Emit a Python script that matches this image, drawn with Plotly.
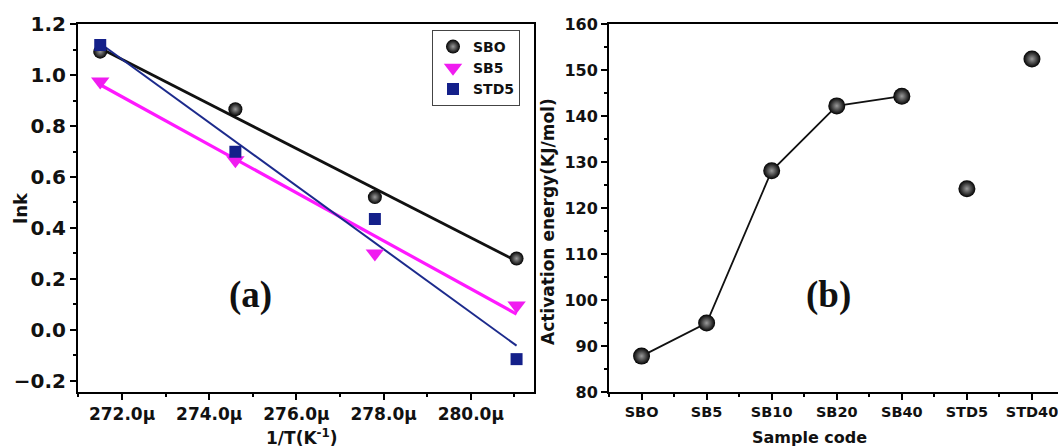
import plotly.graph_objects as go

# ---------------- data: panel (a) ----------------
inv_T = [271.5e-6, 274.6e-6, 277.8e-6, 281.05e-6]
lnk_sbo = [1.092, 0.866, 0.521, 0.280]
lnk_sb5 = [0.975, 0.666, 0.300, 0.096]
lnk_std5 = [1.118, 0.699, 0.435, -0.115]
# linear-fit line values at the first and last 1/T
fit_sbo = [1.105, 0.270]
fit_sb5 = [0.962, 0.062]
fit_std5 = [1.124, -0.062]

# ---------------- data: panel (b) ----------------
samples = ["SBO", "SB5", "SB10", "SB20", "SB40", "STD5", "STD40"]
energy = [87.8, 95.0, 128.1, 142.2, 144.3, 124.2, 152.4]
n_connected = 5  # first five samples joined by a line

FONT = "DejaVu Sans"
TXT = "#111111"
BLACK = "#111111"
MAGENTA = "#f01cf0"
NAVY = "#14208a"

W, H = 1058, 448

fig = go.Figure()

fit_x = [inv_T[0], inv_T[-1]]
for fy, col, w in [(fit_sbo, BLACK, 2.8), (fit_sb5, "#ff19ff", 3.2), (fit_std5, "#1c2a8c", 2.0)]:
    fig.add_trace(go.Scatter(x=fit_x, y=fy, mode="lines", line=dict(color=col, width=w),
                             showlegend=False, hoverinfo="skip", xaxis="x", yaxis="y"))

fig.add_trace(go.Scatter(x=inv_T, y=lnk_sbo, mode="markers", name="SBO",
                         marker=dict(symbol="circle", size=14, color="#000000",
                                     gradient=dict(type="radial", color="#9a9a9a"),
                                     line=dict(width=0)),
                         xaxis="x", yaxis="y"))
fig.add_trace(go.Scatter(x=inv_T, y=lnk_sb5, mode="markers", name="SB5",
                         marker=dict(symbol="triangle-down", size=16, color=MAGENTA, line=dict(width=0)),
                         xaxis="x", yaxis="y"))
fig.add_trace(go.Scatter(x=inv_T, y=lnk_std5, mode="markers", name="STD5",
                         marker=dict(symbol="square", size=12, color=NAVY, line=dict(width=0)),
                         xaxis="x", yaxis="y"))

# panel (b)
idx = list(range(len(samples)))
fig.add_trace(go.Scatter(x=idx[:n_connected], y=energy[:n_connected], mode="lines",
                         line=dict(color=BLACK, width=1.8), showlegend=False,
                         xaxis="x2", yaxis="y2"))
fig.add_trace(go.Scatter(x=idx, y=energy, mode="markers", showlegend=False,
                         marker=dict(symbol="circle", size=17, color="#000000",
                                     gradient=dict(type="radial", color="#9a9a9a"),
                                     line=dict(width=0)),
                         xaxis="x2", yaxis="y2"))

tick_common = dict(showline=True, linecolor="black", linewidth=2, ticks="outside",
                   tickcolor="black", tickwidth=2, ticklen=6, showgrid=False,
                   zeroline=False, automargin=False, ticklabeloverflow="allow")
minor_common = dict(ticks="outside", ticklen=3, tickwidth=2, tickcolor="black")


def ann(text, px, py, size, angle=0, family=FONT):
    return dict(text=text, x=px / W, y=1 - py / H, xref="paper", yref="paper",
                xanchor="center", yanchor="middle", showarrow=False, textangle=angle,
                font=dict(family=family, size=size, weight="bold", color=TXT))


fig.update_layout(
    width=W, height=H,
    margin=dict(l=0, r=0, t=0, b=0, autoexpand=False),
    paper_bgcolor="white", plot_bgcolor="white",
    font=dict(family=FONT, color=TXT),
    legend=dict(x=432 / W, y=1 - 30 / H, xanchor="left", yanchor="top",
                bordercolor="#444444", borderwidth=1, bgcolor="white",
                font=dict(family=FONT, size=14, color=TXT, weight="bold"),
                tracegroupgap=0),
    xaxis=dict(domain=[78 / W, 534 / W], range=[270.99e-6, 281.45e-6],
               tick0=272e-6, dtick=2e-6, tickformat=".4s", mirror=True,
               minor=dict(dtick=1e-6, tick0=272e-6, **minor_common),
               tickfont=dict(family=FONT, size=17, weight="bold", color=TXT),
               anchor="y", **tick_common),
    yaxis=dict(domain=[1 - 392 / H, 1 - 24 / H], range=[-0.244, 1.2005],
               tick0=0, dtick=0.2, tickformat=".1f", mirror=True,
               minor=dict(dtick=0.1, tick0=0, **minor_common),
               tickfont=dict(family=FONT, size=20, weight="bold", color=TXT),
               anchor="x", **tick_common),
    xaxis2=dict(domain=[609 / W, 1.0], range=[-0.5, 6.40],
                tickmode="array", tickvals=idx, ticktext=samples, mirror=True,
                minor=dict(tick0=0.5, dtick=1, **minor_common),
                tickfont=dict(family=FONT, size=14.5, weight="bold", color=TXT),
                anchor="y2", **tick_common),
    yaxis2=dict(domain=[1 - 392 / H, 1 - 24 / H], range=[80, 160],
                tick0=80, dtick=10, mirror=False,
                minor=dict(dtick=5, tick0=80, **minor_common),
                tickfont=dict(family=FONT, size=16, weight="bold", color=TXT),
                anchor="x2", **tick_common),
    annotations=[
        ann("lnk", 20, 208, 18, -90),
        ann("1/T(K<sup>-1</sup>)", 302, 437, 17),
        ann("Activation energy(KJ/mol)", 548, 222, 17, -90),
        ann("Sample code", 809, 437, 16),
        dict(text="(a)", x=274.94e-6, y=0.135, xref="x", yref="y", showarrow=False,
             font=dict(family="Liberation Serif", size=37, weight="bold", color=TXT)),
        dict(text="(b)", x=2.88, y=101.0, xref="x2", yref="y2", showarrow=False,
             font=dict(family="Liberation Serif", size=37, weight="bold", color=TXT)),
    ],
)

fig.write_html("out.html")
